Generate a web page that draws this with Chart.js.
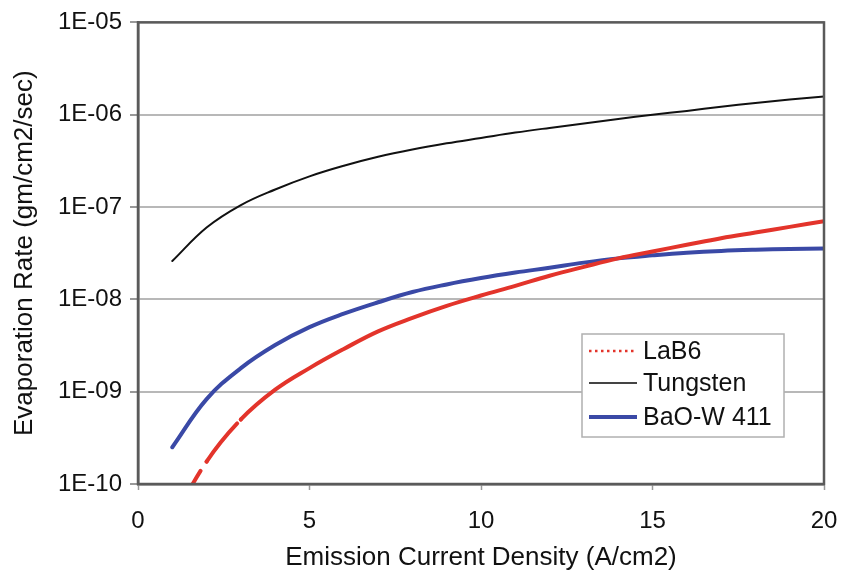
<!DOCTYPE html>
<html>
<head>
<meta charset="utf-8">
<script src="https://cdn.jsdelivr.net/npm/chart.js@4.4.1/dist/chart.umd.min.js"></script>
<style>
  html, body { margin: 0; padding: 0; background: #fff; }
</style>
</head>
<body>
<canvas id="myChart" width="841" height="580"></canvas>
<script>
// emission current density (A/cm2)
const currentDensity = [1, 2, 3, 4, 5, 6, 7, 8, 9, 10, 11, 12, 13, 14, 15, 16, 17, 18, 19, 20];

// evaporation rate (gm/cm2/sec)
const lab6Rate = [4e-11, 1.75e-10, 5e-10, 1.05e-9, 1.8e-9, 2.9e-9, 4.5e-9, 6.3e-9, 8.5e-9, 1.1e-8,
                  1.4e-8, 1.8e-8, 2.25e-8, 2.78e-8, 3.3e-8, 3.9e-8, 4.6e-8, 5.3e-8, 6.1e-8, 7.0e-8];
const tungstenRate = [2.6e-8, 6.0e-8, 1.05e-7, 1.55e-7, 2.15e-7, 2.8e-7, 3.5e-7, 4.2e-7, 4.9e-7, 5.6e-7,
                      6.4e-7, 7.2e-7, 8.05e-7, 9.0e-7, 1.0e-6, 1.1e-6, 1.22e-6, 1.34e-6, 1.46e-6, 1.58e-6];
const baoRate = [2.5e-10, 8.3e-10, 1.8e-9, 3.2e-9, 5.0e-9, 7.0e-9, 9.3e-9, 1.2e-8, 1.45e-8, 1.7e-8,
                 1.95e-8, 2.2e-8, 2.5e-8, 2.78e-8, 3.0e-8, 3.2e-8, 3.35e-8, 3.45e-8, 3.52e-8, 3.55e-8];

const seriesNames = ['LaB6', 'Tungsten', 'BaO-W 411'];

const yTickValues = [1e-10, 1e-9, 1e-8, 1e-7, 1e-6, 1e-5];
const yTickLabels = ['1E-10', '1E-09', '1E-08', '1E-07', '1E-06', '1E-05'];
const xTickValues = [0, 5, 10, 15, 20];

const FONT = '"Liberation Sans", Arial, Helvetica, sans-serif';

function toPoints(ys) {
  return currentDensity.map((x, i) => ({ x: x, y: ys[i] }));
}

// first two LaB6 segments are drawn broken like the original
function lab6Dash(ctx) {
  if (ctx.p0DataIndex > 1) return undefined;
  const len = Math.hypot(ctx.p1.x - ctx.p0.x, ctx.p1.y - ctx.p0.y);
  const gap = ctx.p0DataIndex === 0 ? 11 : 5;
  return [Math.max(len - gap, 1), gap];
}

// frame around the plot
const framePlugin = {
  id: 'frame',
  afterDatasetsDraw(chart) {
    const { ctx, chartArea: a } = chart;
    ctx.save();
    ctx.strokeStyle = '#5a5a5a';
    ctx.lineWidth = 2.5;
    ctx.strokeRect(a.left, a.top, a.right - a.left, a.bottom - a.top);
    ctx.restore();
  }
};

// boxed legend inside the plot, lower right
const boxLegend = {
  id: 'boxLegend',
  afterDraw(chart) {
    const { ctx, chartArea: a } = chart;
    const w = 202, h = 103;
    const x0 = a.right - 40 - w, y0 = a.bottom - 47 - h;
    ctx.save();
    ctx.fillStyle = '#fff';
    ctx.fillRect(x0, y0, w, h);
    ctx.strokeStyle = '#b0b0b0';
    ctx.lineWidth = 1.5;
    ctx.strokeRect(x0, y0, w, h);
    const rows = [17, 49, 83];
    chart.data.datasets.forEach((ds, i) => {
      const y = y0 + rows[i];
      ctx.beginPath();
      ctx.strokeStyle = ds.legendColor;
      ctx.lineWidth = ds.legendWidth;
      ctx.setLineDash(ds.legendDash);
      ctx.moveTo(x0 + 7, y);
      ctx.lineTo(x0 + 55, y);
      ctx.stroke();
      ctx.setLineDash([]);
      ctx.fillStyle = '#111';
      ctx.font = '25px ' + FONT;
      ctx.textBaseline = 'middle';
      ctx.textAlign = 'left';
      ctx.fillText(ds.label, x0 + 61, y + 1);
    });
    ctx.restore();
  }
};

new Chart(document.getElementById('myChart').getContext('2d'), {
  type: 'line',
  data: {
    datasets: [
      {
        label: seriesNames[0],
        data: toPoints(lab6Rate),
        borderColor: '#e3342b',
        borderWidth: 4,
        segment: { borderDash: lab6Dash },
        legendColor: '#e3342b', legendWidth: 2.5, legendDash: [2.5, 3.5]
      },
      {
        label: seriesNames[1],
        data: toPoints(tungstenRate),
        borderColor: '#111',
        borderWidth: 2,
        legendColor: '#444', legendWidth: 2, legendDash: []
      },
      {
        label: seriesNames[2],
        data: toPoints(baoRate),
        borderColor: '#3a49a6',
        borderWidth: 4,
        legendColor: '#3a49a6', legendWidth: 4, legendDash: []
      }
    ]
  },
  options: {
    responsive: false,
    animation: false,
    layout: { padding: { top: 22, right: 17, left: 0, bottom: 0 } },
    elements: {
      point: { radius: 0 },
      line: { tension: 0.4, borderCapStyle: 'round' }
    },
    plugins: {
      legend: { display: false },
      tooltip: { enabled: false }
    },
    scales: {
      x: {
        type: 'linear',
        min: 0,
        max: 20,
        afterBuildTicks: s => { s.ticks = xTickValues.map(v => ({ value: v })); },
        afterFit: s => { s.height = 96; s.paddingRight = 0; s.paddingLeft = 0; },
        grid: { drawOnChartArea: false, drawTicks: true, tickLength: 6, tickColor: '#999', tickWidth: 1.5 },
        border: { display: true, color: '#5a5a5a', width: 2.5 },
        ticks: { color: '#111', font: { family: FONT, size: 24 }, padding: 17, maxRotation: 0 },
        title: {
          display: true,
          text: 'Emission Current Density (A/cm2)',
          color: '#111',
          font: { family: FONT, size: 26 },
          padding: { top: 0, bottom: 7 }
        }
      },
      y: {
        type: 'logarithmic',
        min: 1e-10,
        max: 1e-5,
        afterBuildTicks: s => { s.ticks = yTickValues.map(v => ({ value: v })); },
        afterFit: s => { s.width = 138; },
        grid: { color: '#b8b8b8', lineWidth: 2, drawTicks: true, tickLength: 8, tickColor: '#999' },
        border: { display: true, color: '#5a5a5a', width: 2.5 },
        ticks: {
          color: '#111',
          font: { family: FONT, size: 24 },
          padding: 8,
          callback: v => yTickLabels[yTickValues.findIndex(t => Math.abs(Math.log10(t) - Math.log10(v)) < 1e-6)]
        },
        title: {
          display: true,
          text: 'Evaporation Rate (gm/cm2/sec)',
          color: '#111',
          font: { family: FONT, size: 26 },
          padding: { top: 9, bottom: 0 }
        }
      }
    }
  },
  plugins: [framePlugin, boxLegend]
});
</script>
</body>
</html>
